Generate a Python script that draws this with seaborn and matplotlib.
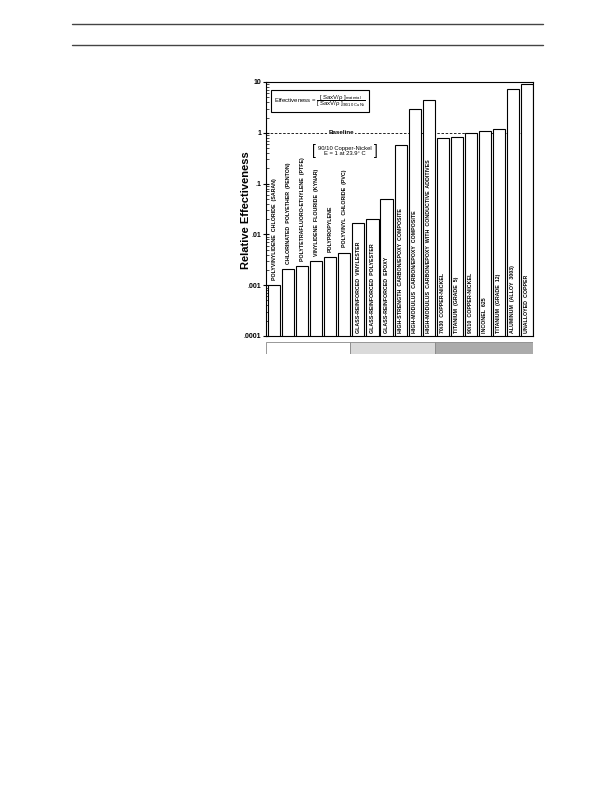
import numpy as np
import pandas as pd
import matplotlib
matplotlib.use('Agg')
import matplotlib.pyplot as plt
import matplotlib.transforms as mtransforms
from matplotlib.lines import Line2D
from matplotlib.ticker import LogLocator, NullFormatter, FixedLocator
import seaborn as sns

materials = [
    "POLYVINYLIDENE  CHLORIDE  (SARAN)",
    "CHLORINATED  POLYETHER  (PENTON)",
    "POLYTETRAFLUORO-ETHYLENE  (PTFE)",
    "VINYLIDENE  FLOURIDE  (KYNAR)",
    "POLYPROPYLENE",
    "POLYVINYL  CHLORIDE  (PVC)",
    "GLASS-REINFORCED  VINYLESTER",
    "GLASS-REINFORCED  POLYESTER",
    "GLASS-REINFORCED  EPOXY",
    "HIGH-STRENGTH  CARBON/EPOXY  COMPOSITE",
    "HIGH-MODULUS  CARBON/EPOXY  COMPOSITE",
    "HIGH-MODULUS  CARBON/EPOXY  WITH  CONDUCTIVE  ADDITIVES",
    "70/30  COPPER-NICKEL",
    "TITANIUM  (GRADE  5)",
    "90/10  COPPER-NICKEL",
    "INCONEL  625",
    "TITANIUM  (GRADE  12)",
    "ALUMINUM  (ALLOY  3003)",
    "UNALLOYED  COPPER",
]
values = [0.001, 0.00207, 0.00237, 0.0030, 0.0036, 0.0044,
          0.017, 0.0197, 0.049, 0.58, 2.9, 4.4,
          0.79, 0.82, 1.0, 1.08, 1.18, 7.3, 9.2]
label_above_bar = [True] * 6 + [False] * 13

group_names = ["Plastics", "Composites", "Metals"]
group_sizes = [6, 6, 7]
group_colors = ["#ffffff", "#dadada", "#ababab"]

ytick_values = [1e-4, 1e-3, 1e-2, 1e-1, 1, 10]
ytick_labels = [".0001", ".001", ".01", ".1", "1", "10"]

sns.set_theme(style="ticks")
plt.rcParams['font.family'] = ['Liberation Sans', 'DejaVu Sans']
plt.rcParams['text.color'] = 'black'
plt.rcParams['axes.labelcolor'] = 'black'
plt.rcParams['xtick.color'] = 'black'
plt.rcParams['ytick.color'] = 'black'
plt.rcParams['axes.edgecolor'] = 'black'
plt.rcParams['mathtext.fontset'] = 'custom'
plt.rcParams['mathtext.rm'] = 'Liberation Sans'
plt.rcParams['mathtext.it'] = 'Liberation Sans:italic'
plt.rcParams['mathtext.bf'] = 'Liberation Sans:bold'

W, H = 612, 792
fig = plt.figure(figsize=(W / 100, H / 100), dpi=100)

# header rules
for yy in (24, 45):
    fig.add_artist(Line2D([72 / W, 543 / W], [1 - yy / H] * 2, color="#444444", lw=1.0))

ax = fig.add_axes([266 / W, 1 - 336 / H, 267 / W, 254 / H])
df = pd.DataFrame({"material": materials, "value": values})
sns.barplot(data=df, x="material", y="value", ax=ax, color="white", saturation=1,
            edgecolor="black", linewidth=0.8, width=0.86, errorbar=None)
ax.set_yscale("log")
ax.set_ylim(1e-4, 10)
ax.set_xlim(-0.58, 18.43)
ax.set_xlabel("")
ax.set_ylabel("")
ax.tick_params(axis="x", bottom=False, labelbottom=False)
ax.yaxis.set_major_locator(FixedLocator(ytick_values))
ax.set_yticklabels(ytick_labels, fontsize=5, fontweight="bold")
ax.yaxis.set_minor_locator(LogLocator(base=10, subs=np.arange(2, 10)))
ax.yaxis.set_minor_formatter(NullFormatter())
ax.tick_params(axis="y", which="major", direction="inout", length=4, width=0.8, pad=1.5)
ax.tick_params(axis="y", which="minor", direction="in", length=2, width=0.5)
for sp in ax.spines.values():
    sp.set_linewidth(0.8)
    sp.set_color("black")

# bar labels
for i, (name, v, above) in enumerate(zip(materials, values, label_above_bar)):
    y0 = v * 1.27 if above else 1.17e-4
    ax.text(i, y0, name, rotation=90, ha="center", va="bottom",
            fontsize=3.8, fontweight="bold", color="black")

# baseline
ax.axhline(1, ls=(0, (3, 2)), color="black", lw=0.6, zorder=0.5)
trans = mtransforms.blended_transform_factory(ax.transAxes, ax.transData)
ax.text((341 - 266) / 267, 1, "Baseline", transform=trans, ha="center", va="center",
        fontsize=4.5, fontweight="bold",
        bbox=dict(facecolor="white", edgecolor="none", pad=1.0))

# formula box
ax.text((320 - 266) / 267, 1 - (101 - 82) / 254,
        r"Effectiveness = $\dfrac{[\;\mathrm{SaxV/\rho}\;]_{\mathrm{material}}}{[\;\mathrm{SaxV/\rho}\;]_{\mathrm{90/10\ Cu\,Ni}}}$",
        transform=ax.transAxes, ha="center", va="center", fontsize=4.3,
        bbox=dict(boxstyle="square,pad=0.5", facecolor="white", edgecolor="black", lw=0.8))

# Cu-Ni reference annotation
ax.text((345 - 266) / 267, 1 - (151 - 82) / 254, "90/10 Copper-Nickel\nE = 1 at 23.9\u00b0 C",
        transform=ax.transAxes, ha="center", va="center", fontsize=4.2, linespacing=1.0)
ax.text((314 - 266) / 267, 1 - (151 - 82) / 254, "[", transform=ax.transAxes,
        ha="center", va="center", fontsize=10, fontweight="light")
ax.text((376 - 266) / 267, 1 - (151 - 82) / 254, "]", transform=ax.transAxes,
        ha="center", va="center", fontsize=10, fontweight="light")

# y label
fig.text(246 / W, 1 - 210 / H, "Relative Effectiveness", rotation=90,
         fontsize=8, fontweight="bold", ha="center", va="center")

# category band
ax2 = fig.add_axes([266 / W, 1 - 354 / H, 267 / W, 12 / H])
lefts = np.concatenate([[0], np.cumsum(group_sizes)[:-1]])
ax2.barh([0] * len(group_sizes), group_sizes, left=lefts, height=1.0,
         color=group_colors, edgecolor="#888888", linewidth=0.6)
ax2.set_xlim(0, sum(group_sizes))
ax2.set_ylim(-0.5, 0.5)
ax2.axis("off")

fig.savefig("out.png", dpi=100)
